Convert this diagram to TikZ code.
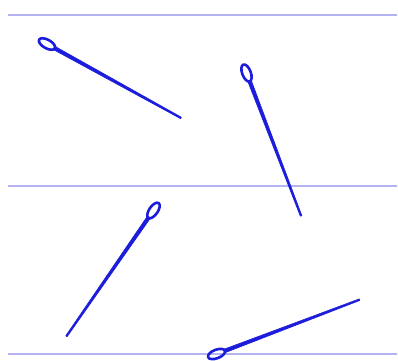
\documentclass[tikz,border=0pt]{standalone}
\definecolor{needleblue}{RGB}{28,28,220}
\definecolor{rulelav}{RGB}{182,180,240}
\tikzset{
  rule/.style={draw=rulelav, line width=2pt},
  needle/.pic={
    \draw[needleblue, line width=2.6pt] (0,0) ellipse [x radius=9pt, y radius=4.3pt];
    \filldraw[needleblue, line width=0.6pt, line join=round] (8pt,1.8pt) -- (153pt,0.8pt) -- (153pt,-0.8pt) -- (8pt,-1.8pt) -- cycle;
  }
}
\begin{document}
\begin{tikzpicture}[x=1pt,y=1pt]
\useasboundingbox (0,0) rectangle (398,360);
\fill[white] (0,0) rectangle (398,360);
\draw[rule] (8,345.5) -- (397,345.5);
\draw[rule] (8,174) -- (397,174);
\draw[rule] (8,6) -- (397,6);
\pic[rotate=-28.9] at (47,316) {needle};
\pic[rotate=-69.1] at (246.5,287) {needle};
\pic[rotate=-124.7] at (153.5,149.5) {needle};
\pic[rotate=20.8] at (216.5,6) {needle};
\end{tikzpicture}
\end{document}
